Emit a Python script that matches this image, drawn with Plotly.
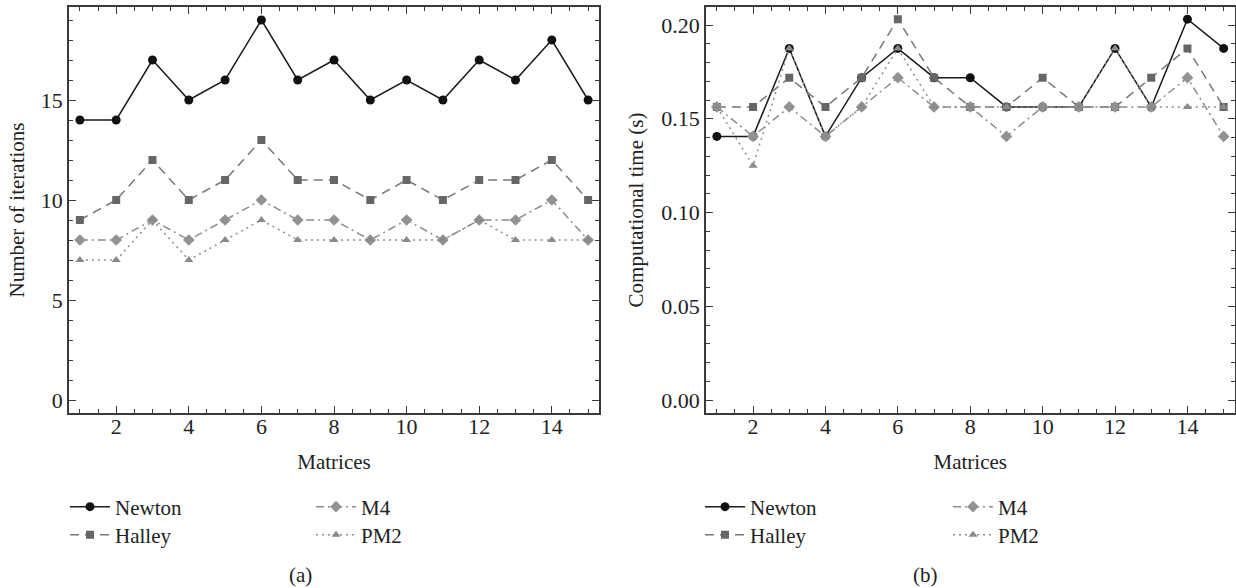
import plotly.graph_objects as go

matrices = list(range(1, 16))

# Panel (a): number of iterations
iter_newton = [14, 14, 17, 15, 16, 19, 16, 17, 15, 16, 15, 17, 16, 18, 15]
iter_halley = [9, 10, 12, 10, 11, 13, 11, 11, 10, 11, 10, 11, 11, 12, 10]
iter_m4 = [8, 8, 9, 8, 9, 10, 9, 9, 8, 9, 8, 9, 9, 10, 8]
iter_pm2 = [7, 7, 9, 7, 8, 9, 8, 8, 8, 8, 8, 9, 8, 8, 8]

# Panel (b): computational time (s)
time_newton = [0.1406, 0.1406, 0.1875, 0.1406, 0.1719, 0.1875, 0.1719, 0.1719, 0.1563, 0.1563, 0.1563, 0.1875, 0.1563, 0.2031, 0.1875]
time_halley = [0.1563, 0.1563, 0.1719, 0.1563, 0.1719, 0.2031, 0.1719, 0.1563, 0.1563, 0.1719, 0.1563, 0.1563, 0.1719, 0.1875, 0.1563]
time_m4 = [0.1563, 0.1406, 0.1563, 0.1406, 0.1563, 0.1719, 0.1563, 0.1563, 0.1406, 0.1563, 0.1563, 0.1563, 0.1563, 0.1719, 0.1406]
time_pm2 = [0.1563, 0.1250, 0.1875, 0.1406, 0.1563, 0.1875, 0.1563, 0.1563, 0.1563, 0.1563, 0.1563, 0.1875, 0.1563, 0.1563, 0.1563]

names = ["Newton", "Halley", "M4", "PM2"]

FONT = "Times New Roman, Liberation Serif, serif"
FS = 21
W, H = 1236, 588
TXT = "#222222"

styles = {
    "Newton": dict(line=dict(color="#1a1a1a", width=1.5, dash="solid"),
                   marker=dict(symbol="circle", size=9, color="#111111")),
    "Halley": dict(line=dict(color="#777777", width=1.5, dash="9px,6px"),
                   marker=dict(symbol="square", size=8, color="#666666")),
    "M4": dict(line=dict(color="#8c8c8c", width=1.5, dash="8px,4px,2px,4px"),
               marker=dict(symbol="diamond", size=9, color="#929292")),
    "PM2": dict(line=dict(color="#8c8c8c", width=1.5, dash="2px,4px"),
                marker=dict(symbol="triangle-up", size=8, color="#8a8a8a")),
}


def px_x(p):
    return p / W


def px_y(p):
    return 1 - p / H


# legend slot per trace: (legend id, left x px, row centre y px)
left_slots = [("legend", 65, 507), ("legend2", 65, 535), ("legend3", 311, 507), ("legend4", 311, 535)]
right_slots = [("legend5", 700, 507), ("legend6", 700, 535), ("legend7", 948, 507), ("legend8", 948, 535)]

fig = go.Figure()

left_sets = [iter_newton, iter_halley, iter_m4, iter_pm2]
right_sets = [time_newton, time_halley, time_m4, time_pm2]

for name, vals, slot in zip(names, left_sets, left_slots):
    fig.add_trace(go.Scatter(x=matrices, y=vals, mode="lines+markers", name=name,
                             xaxis="x", yaxis="y", legend=slot[0], showlegend=True,
                             **styles[name]))
for name, vals, slot in zip(names, right_sets, right_slots):
    fig.add_trace(go.Scatter(x=matrices, y=vals, mode="lines+markers", name=name,
                             xaxis="x2", yaxis="y2", legend=slot[0], showlegend=True,
                             **styles[name]))

axis_common = dict(
    showline=True, linecolor="#3a3a3a", linewidth=1.5, mirror="allticks",
    ticks="inside", ticklen=7, tickwidth=1.2, tickcolor="#3a3a3a",
    showgrid=False, zeroline=False,
    tickfont=dict(family=FONT, size=FS + 1, color=TXT),
)

xaxis_common = dict(axis_common, range=[0.7, 15.3], tickmode="linear", tick0=0, dtick=2,
                    ticklabelstandoff=-7,
                    minor=dict(dtick=0.5, tick0=0, ticks="inside", ticklen=4,
                               tickcolor="#3a3a3a", tickwidth=1),
                    title=dict(text="Matrices", font=dict(family=FONT, size=FS, color=TXT),
                               standoff=16))

ydom = [px_y(413), px_y(7)]

fig.update_layout(
    width=W, height=H, showlegend=True,
    paper_bgcolor="white", plot_bgcolor="white",
    margin=dict(l=0, r=0, t=0, b=0),
    font=dict(family=FONT, size=FS, color=TXT),
    xaxis=dict(xaxis_common, domain=[px_x(69), px_x(599)], anchor="y"),
    yaxis=dict(axis_common, domain=ydom, anchor="x", range=[-0.65, 19.65],
               tickmode="linear", tick0=0, dtick=5,
               minor=dict(dtick=1, tick0=0, ticks="inside", ticklen=4,
                          tickcolor="#3a3a3a", tickwidth=1),
               title=dict(text="Number of iterations",
                          font=dict(family=FONT, size=FS, color=TXT), standoff=10)),
    xaxis2=dict(xaxis_common, domain=[px_x(706), px_x(1234.5)], anchor="y2"),
    yaxis2=dict(axis_common, domain=ydom, anchor="x2", range=[-0.0069, 0.2096],
                tickmode="linear", tick0=0, dtick=0.05, tickformat=".2f",
                minor=dict(dtick=0.01, tick0=0, ticks="inside", ticklen=4,
                           tickcolor="#3a3a3a", tickwidth=1),
                title=dict(text="Computational time (s)",
                           font=dict(family=FONT, size=FS, color=TXT), standoff=12)),
)

legend_style = dict(bgcolor="rgba(0,0,0,0)", borderwidth=0, orientation="v",
                    yanchor="middle", xanchor="left", itemwidth=40, visible=True,
                    font=dict(family=FONT, size=FS, color=TXT))

fig.update_layout(**{lid: dict(legend_style, x=px_x(lx), y=px_y(ly))
                     for lid, lx, ly in left_slots + right_slots})

for txt, xc in [("(a)", 300), ("(b)", 925)]:
    fig.add_annotation(text=txt, x=px_x(xc), y=px_y(575), xref="paper", yref="paper",
                       showarrow=False, xanchor="center", yanchor="middle",
                       font=dict(family=FONT, size=FS, color=TXT))

fig.write_html("out.html",
               config={"displayModeBar": False},
               post_script="document.body.style.margin='0';document.body.style.overflow='hidden';")
